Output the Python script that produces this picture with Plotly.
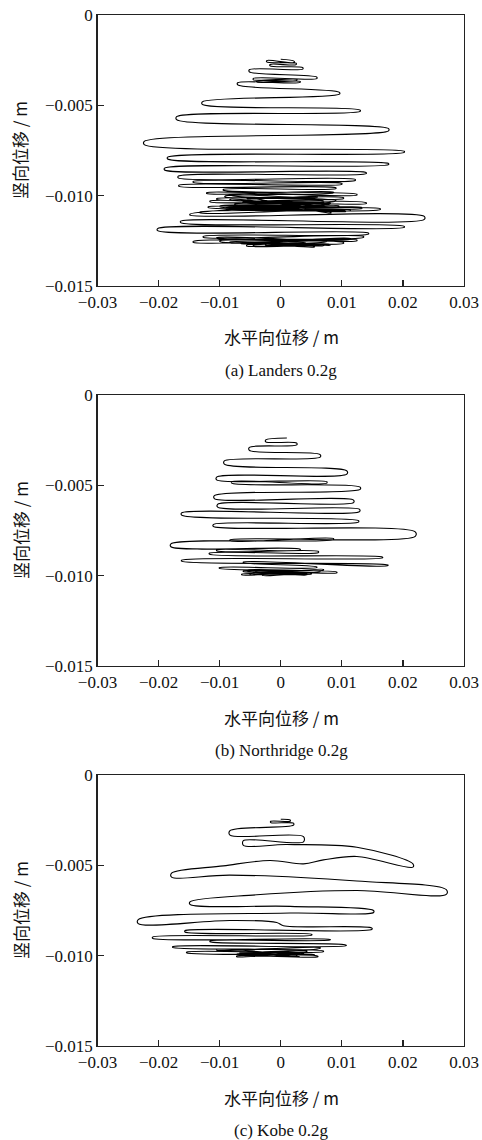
import plotly.graph_objects as go

# ---------------- data ----------------
x_ticks = [-0.03, -0.02, -0.01, 0, 0.01, 0.02, 0.03]
x_ticktext = ["−0.03", "−0.02", "−0.01", "0", "0.01", "0.02", "0.03"]
y_ticks = [0, -0.005, -0.010, -0.015]
y_ticktext = ["0", "−0.005", "−0.010", "−0.015"]

x_title = "水平向位移 / m"
y_title = "竖向位移 / m"
captions = ["(a) Landers 0.2g", "(b) Northridge 0.2g", "(c) Kobe 0.2g"]

# Trajectory points, in mm.
# Each turning point has the y where the trace arrives and where it leaves
# (the two sides of the rounded loop end); plain path points have y_in == y_out.
landers_x = [0.0, 2.19, -2.30, 2.51, -1.75, 3.61, -5.14, 5.90, -4.48, 2.62, -3.93, 3.17,
             -7.05, 9.62, -12.84, 13.0, -17.05, 17.65, -22.35, 20.22, -18.52, 17.65,
             -19.02, 13.99, -16.78, 12.19, -14.32, 10.0, -16.67, 9.02, -9.40, 12.46,
             -12.13, 8.63, -9.13, 10.27, -10.49, 13.99, -11.58, 8.09, -9.95, 13.28,
             -11.86, 16.28, -13.22, 11.37, -8.31, 6.99, -7.5, 9.5, -6.2, 7.4, -9.2, 10.6,
             -7.0, 8.2, -5.5, 6.0, -8.0, 9.0, -14.86, 23.50, -16.39, 20.22, -20.16, 14.37,
             -12.68, 13.55, -14.32, 12.46, -10.49, 10.27, -5.57, 8.09, -8.31, 11.37,
             -9.95, 6.99, -6.5, 7.5, -4.5, 5.5, -2.5, 4.0, -1.0]
landers_y_in = [-2.45, -2.56, -2.52, -2.67, -2.74, -2.91, -3.03, -3.44, -3.51, -3.56, -3.65, -3.67,
                -3.75, -4.28, -4.81, -5.26, -5.63, -6.29, -7.00, -7.54, -7.87, -8.22,
                -8.48, -8.72, -8.92, -9.10, -9.21, -9.32, -9.42, -9.56, -9.65, -9.92,
                -9.83, -9.80, -10.02, -10.11, -10.16, -10.39, -10.29, -10.42, -10.57, -10.66,
                -10.61, -10.72, -10.90, -10.79, -10.20, -10.29, -10.46, -10.56, -10.36, -10.48,
                -10.68, -10.84, -10.58, -10.92, -10.12, -10.06, -9.96, -10.26, -11.02, -11.15,
                -11.41, -11.70, -11.82, -12.07, -12.25, -12.25, -12.53, -12.45, -12.32, -12.59,
                -12.74, -12.69, -12.56, -12.37, -12.50, -12.72, -12.62, -12.50, -12.76, -12.80,
                -12.70, -12.60, -12.78]
landers_y_out = [-2.45, -2.64, -2.60, -2.75, -2.82, -2.99, -3.15, -3.52, -3.59, -3.62, -3.71, -3.73,
                 -3.87, -4.38, -4.95, -5.34, -5.79, -6.41, -7.18, -7.60, -7.97, -8.28,
                 -8.58, -8.78, -9.02, -9.16, -9.27, -9.37, -9.48, -9.61, -9.70, -9.97,
                 -9.88, -9.85, -10.07, -10.16, -10.21, -10.44, -10.34, -10.47, -10.62, -10.71,
                 -10.66, -10.77, -10.95, -10.84, -10.25, -10.34, -10.50, -10.60, -10.40, -10.52,
                 -10.72, -10.88, -10.62, -10.96, -10.16, -10.10, -10.00, -10.30, -11.08, -11.31,
                 -11.49, -11.76, -11.94, -12.13, -12.31, -12.31, -12.59, -12.50, -12.37, -12.64,
                 -12.79, -12.74, -12.61, -12.42, -12.55, -12.77, -12.66, -12.54, -12.80, -12.84,
                 -12.74, -12.64, -12.78]

northridge_x = [1.0, -2.46, 2.62, -5.14, 6.45, -9.23, 10.82, -10.49, 7.54, -8.03, 13.0,
                -10.87, 11.91, -10.33, 12.90, -16.23, 12.73, -11.04, 22.02, -8.31, 8.63,
                -17.98, 3.17, -10.49, 6.17, -11.69, 16.67, -16.23, 17.54, -6.12, 5.90,
                -10.05, 9.18, -6.12, 6.45, -6.39, 3.72, -5.03, 6.99, -5.57, 4.26,
                -4.5, 5.0, -3.0, 2.0]
northridge_y_in = [-2.38, -2.49, -2.66, -2.90, -3.30, -3.65, -4.20, -4.54, -4.80, -4.80, -5.10,
                   -5.57, -5.82, -6.05, -6.33, -6.53, -6.96, -7.17, -7.58, -8.02, -7.94,
                   -8.24, -8.53, -8.57, -8.66, -8.75, -8.97, -9.14, -9.41, -9.24, -9.52,
                   -9.56, -9.80, -9.74, -9.74, -9.92, -9.83, -9.89, -9.65, -9.69, -9.92,
                   -9.80, -9.88, -9.95, -9.90]
northridge_y_out = [-2.38, -2.59, -2.76, -3.06, -3.44, -3.83, -4.38, -4.70, -4.88, -4.88, -5.22,
                    -5.73, -5.96, -6.21, -6.45, -6.65, -7.04, -7.27, -7.82, -8.08, -8.00,
                    -8.40, -8.59, -8.63, -8.72, -8.81, -9.01, -9.20, -9.45, -9.28, -9.56,
                    -9.60, -9.84, -9.78, -9.78, -9.96, -9.87, -9.93, -9.69, -9.73, -9.96,
                    -9.84, -9.92, -9.98, -9.90]

kobe_x = [0.0, 1.53, -1.64, 2.08, -8.31, 3.72, -6.12, 0.98, 12.46, 21.64, 12.46, 6.99,
          3.72, -1.75, -9.40, -17.87, -8.31, 12.46, 27.10, 12.46, -3.93, -14.86, 1.53,
          15.19, 1.53, -23.33, -8.31, -0.66, 0.44, 14.92, -15.68, 5.08, -20.98, 8.09,
          -11.58, 10.71, -17.70, 6.99, -15.41, 6.07, -7.21, 3.72, -10.49, 6.45, -7.21,
          2.62, -6.67, 4.26, -5.5, 3.0, -4.0, 5.5]
kobe_y_in = [-2.45, -2.49, -2.56, -2.67, -3.08, -3.41, -3.63, -3.85, -4.00, -4.92, -4.51, -4.70,
             -4.92, -4.73, -5.03, -5.43, -5.54, -5.87, -6.35, -6.39, -6.63, -7.02, -7.27,
             -7.50, -7.64, -8.01, -8.05, -8.16, -8.34, -8.47, -8.62, -8.82, -8.97, -9.10,
             -9.19, -9.41, -9.50, -9.74, -9.80, -10.02, -10.02, -9.87, -9.65, -9.56, -9.92,
             -9.98, -9.83, -9.74, -9.95, -10.04, -9.90, -9.94]
kobe_y_out = [-2.45, -2.56, -2.63, -2.78, -3.33, -3.70, -3.89, -3.85, -4.00, -5.10, -4.51, -4.70,
              -4.92, -4.73, -5.03, -5.65, -5.54, -5.87, -6.61, -6.39, -6.63, -7.16, -7.27,
              -7.61, -7.64, -8.23, -8.05, -8.16, -8.34, -8.55, -8.69, -8.86, -9.04, -9.13,
              -9.23, -9.45, -9.54, -9.78, -9.84, -10.06, -10.06, -9.91, -9.69, -9.60, -9.96,
              -10.02, -9.87, -9.78, -9.99, -10.06, -9.93, -9.97]

series = [(landers_x, landers_y_in, landers_y_out),
          (northridge_x, northridge_y_in, northridge_y_out),
          (kobe_x, kobe_y_in, kobe_y_out)]


def build_path(xs, yin, yout):
    px, py = [], []
    for x, a, b in zip(xs, yin, yout):
        px.append(x / 1000)
        py.append(a / 1000)
        if b != a:
            px.append(x / 1000)
            py.append(b / 1000)
    return px, py


# ---------------- layout ----------------
W, H = 482, 1140
px_left, px_right = 97.5, 464
panel_tops = [15, 395, 775]
panel_h = 271
x_center = 281
y_title_x = 20

FONT = "Liberation Serif, Times New Roman, Noto Sans CJK SC, serif"
CJK = "Noto Sans CJK SC, Liberation Serif, serif"

fig = go.Figure()
annotations = []
layout_axes = {}
for i, (xs, yin, yout) in enumerate(series):
    n = "" if i == 0 else str(i + 1)
    top = panel_tops[i]
    bot = top + panel_h
    px, py = build_path(xs, yin, yout)
    fig.add_trace(go.Scatter(
        x=px, y=py, mode="lines",
        line=dict(color="black", width=1.1, shape="spline", smoothing=1.0),
        xaxis="x" + n, yaxis="y" + n, showlegend=False, hoverinfo="skip"))
    common = dict(ticks="inside", ticklen=6, tickwidth=1.2, tickcolor="#222",
                  showline=True, linecolor="#222", linewidth=1.3, mirror=True,
                  showgrid=False, zeroline=False, automargin=False,
                  ticklabeloverflow="allow",
                  tickfont=dict(family=FONT, size=17, color="#111"), fixedrange=True)
    layout_axes["xaxis" + n] = dict(
        domain=[px_left / W, px_right / W], anchor="y" + n,
        range=[-0.03, 0.03], tickvals=x_ticks, ticktext=x_ticktext, **common)
    layout_axes["yaxis" + n] = dict(
        domain=[1 - bot / H, 1 - top / H], anchor="x" + n,
        range=[-0.015, 0], tickvals=y_ticks, ticktext=y_ticktext, **common)
    annotations.append(dict(text=x_title, x=x_center / W, y=1 - (top + 322) / H,
                            xref="paper", yref="paper", showarrow=False,
                            xanchor="center", yanchor="middle",
                            font=dict(family=CJK, size=17, color="#111")))
    annotations.append(dict(text=captions[i], x=x_center / W, y=1 - (top + 355) / H,
                            xref="paper", yref="paper", showarrow=False,
                            xanchor="center", yanchor="middle",
                            font=dict(family=FONT, size=17, color="#111")))
    annotations.append(dict(text=y_title, x=y_title_x / W, y=1 - (top + 135) / H,
                            xref="paper", yref="paper", showarrow=False, textangle=-90,
                            xanchor="center", yanchor="middle",
                            font=dict(family=CJK, size=17, color="#111")))

fig.update_layout(width=W, height=H, margin=dict(l=0, r=0, t=0, b=0),
                  paper_bgcolor="white", plot_bgcolor="white",
                  annotations=annotations, **layout_axes)
# remove the browser's default 8 px page margin so the figure fills the window
fig.write_html("out.html",
               config={"displayModeBar": False, "staticPlot": True},
               post_script="document.body.style.margin='0';"
                           "document.body.style.overflow='hidden';")
